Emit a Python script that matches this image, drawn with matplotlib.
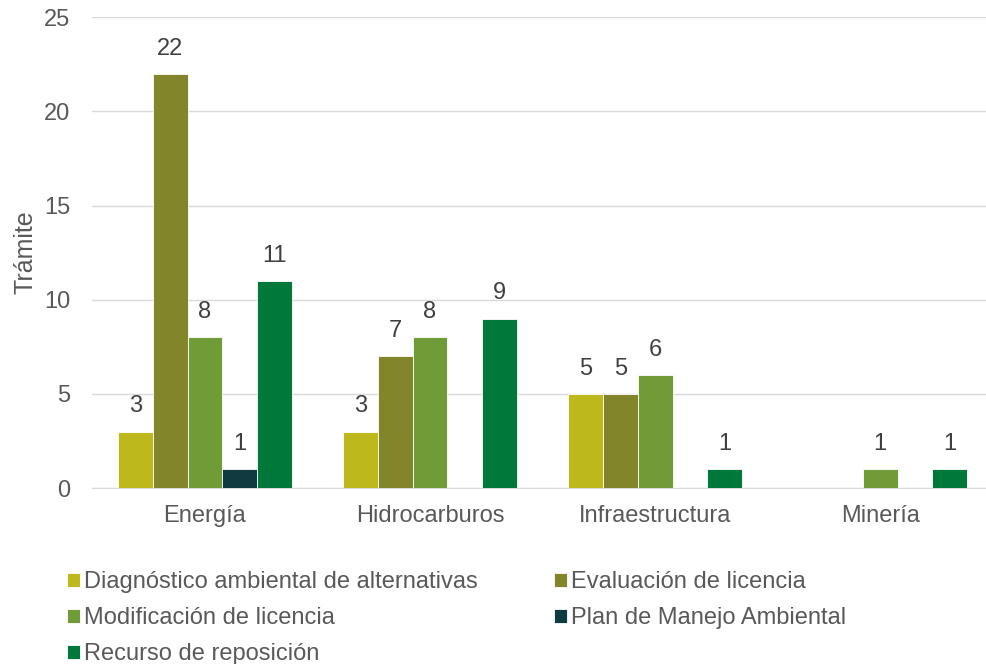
import numpy as np
import matplotlib
matplotlib.use('Agg')
import matplotlib.pyplot as plt

plt.rcParams['font.family'] = ['Liberation Sans', 'DejaVu Sans']

categorias = ['Energía', 'Hidrocarburos', 'Infraestructura', 'Minería']
series = ['Diagnóstico ambiental de alternativas', 'Evaluación de licencia',
          'Modificación de licencia', 'Plan de Manejo Ambiental',
          'Recurso de reposición']
diagnostico = [3, 3, 5, 0]
evaluacion = [22, 7, 5, 0]
modificacion = [8, 8, 6, 1]
plan_manejo = [1, 0, 0, 0]
recurso = [11, 9, 1, 1]
valores = [diagnostico, evaluacion, modificacion, plan_manejo, recurso]
colores = ['#BDB81C', '#83852A', '#6F9C36', '#0E3A40', '#00783A']

gris = '#595959'
fig = plt.figure(figsize=(9.87, 6.64), dpi=100)
ax = fig.add_axes([0.0937, 0.265, 0.912, 0.709])

x = np.arange(len(categorias))
w = 0.155
for i, (nombre, vals, c) in enumerate(zip(series, valores, colores)):
    pos = x + (i - 2) * w
    bars = ax.bar(pos, vals, w, color=c, label=nombre, edgecolor='white', linewidth=0.6, zorder=3)
    for b, v in zip(bars, vals):
        if v > 0:
            ax.text(b.get_x() + b.get_width() / 2, v + 0.75, str(v), ha='center', va='bottom',
                    fontsize=17, color='#404040')

ax.set_xlim(-0.5, 3.5)
ax.set_ylim(0, 25)
ax.set_yticks([0, 5, 10, 15, 20, 25])
ax.set_xticks(x)
ax.set_xticklabels(categorias)
ax.tick_params(axis='y', length=0, labelsize=17, colors=gris, pad=16)
ax.tick_params(axis='x', length=0, labelsize=17, colors=gris, pad=12)
ax.grid(axis='y', color='#D9D9D9', linewidth=1, zorder=0)
for s in ['top', 'right', 'left']:
    ax.spines[s].set_visible(False)
ax.spines['bottom'].set_color('#D9D9D9')
ax.set_ylabel('Trámite', fontsize=18, color=gris, labelpad=5)

h, l = ax.get_legend_handles_labels()
orden = [0, 2, 4, 1, 3]
fig.legend([h[i] for i in orden], [l[i] for i in orden], loc='lower left',
           bbox_to_anchor=(0.046, -0.034), ncol=2, frameon=False,
           fontsize=17, labelcolor=gris, handlelength=0.55, handleheight=0.55,
           handletextpad=0.2, columnspacing=3.2, labelspacing=0.6)

fig.savefig('out.png', dpi=100)
